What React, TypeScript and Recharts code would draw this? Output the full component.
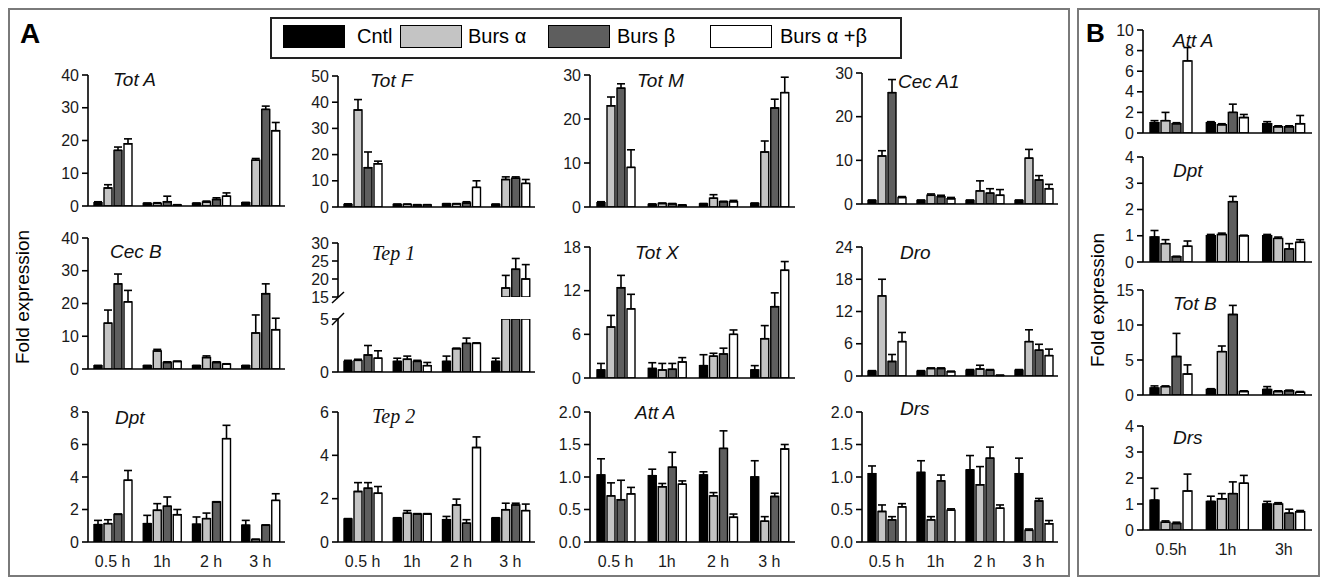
import React from 'react';
import { BarChart, Bar, XAxis, YAxis, ErrorBar } from 'recharts';

const TIMES_A = ['0.5 h', '1h', '2 h', '3 h'];
const TIMES_B = ['0.5h', '1h', '3h'];
const SERIES = ['Cntl', 'Burs α', 'Burs β', 'Burs α +β'];
const FILLS = ['#000000', '#c4c4c4', '#5e5e5e', '#ffffff'];

// rows: Cntl, Burs α, Burs β, Burs α+β ; columns: time points
const TOT_A = [[1.0, 0.8, 0.8, 1.0], [5.5, 0.8, 1.2, 14.0], [17.0, 1.3, 2.0, 29.5], [19.0, 0.3, 3.0, 23.0]];
const TOT_A_SE = [[0.3, 0.1, 0.1, 0.1], [1.0, 0.2, 0.3, 0.5], [1.0, 1.7, 0.5, 1.0], [1.5, 0.1, 1.0, 2.5]];
const TOT_F = [[1.0, 1.0, 1.2, 1.0], [37, 1.0, 1.2, 10.5], [15, 0.8, 1.5, 11], [16.5, 0.8, 7.5, 9]];
const TOT_F_SE = [[0.2, 0.1, 0.1, 0.1], [4, 0.1, 0.1, 1], [6, 0.1, 0.5, 0.5], [1, 0.1, 2.5, 1.5]];
const TOT_M = [[1.0, 0.6, 0.7, 0.8], [23, 0.8, 2.0, 12.5], [27, 0.7, 1.2, 22.5], [9, 0.4, 1.2, 26]];
const TOT_M_SE = [[0.2, 0.1, 0.1, 0.1], [2, 0.1, 0.8, 2.5], [1, 0.1, 0.1, 2], [4, 0.1, 0.3, 3.5]];
const CEC_A1 = [[0.8, 0.8, 0.8, 0.8], [11, 2.0, 3.0, 10.5], [25.5, 1.7, 2.5, 5.5], [1.5, 1.2, 2.0, 3.5]];
const CEC_A1_SE = [[0.1, 0.1, 0.1, 0.1], [1.2, 0.3, 2.3, 2], [3, 0.3, 1.0, 1.0], [0.2, 0.3, 1.3, 1.0]];
const CEC_B = [[1, 1, 1, 1], [14, 5.5, 3.5, 11], [26, 2, 2, 23], [20.5, 2.3, 1.5, 12]];
const CEC_B_SE = [[0.1, 0.1, 0.1, 0.1], [4, 0.5, 0.5, 5.5], [3, 0.2, 0.2, 3], [3.5, 0.1, 0.1, 3.5]];
const TEP_1 = [[1.0, 1.0, 1.0, 1.0], [1.1, 1.2, 2.2, 17.5], [1.6, 1.0, 2.7, 22.7], [1.3, 0.6, 2.7, 20]];
const TEP_1_SE = [[0.1, 0.3, 0.5, 0.3], [0.1, 0.3, 0.05, 3.5], [0.9, 0.1, 0.5, 3], [0.7, 0.3, 0.05, 4]];
const TOT_X = [[1.1, 1.3, 1.7, 1.1], [7.0, 1.1, 3.0, 5.4], [12.4, 1.2, 3.3, 9.8], [9.5, 2.2, 6.0, 14.8]];
const TOT_X_SE = [[0.9, 0.8, 1.5, 0.6], [1.6, 0.9, 0.4, 1.8], [1.7, 0.8, 0.8, 1.9], [2.0, 0.6, 0.6, 1.2]];
const DRO = [[0.9, 0.9, 1.1, 1.1], [14.9, 1.4, 1.3, 6.4], [2.7, 1.4, 1.1, 4.8], [6.4, 0.8, 0.1, 3.8]];
const DRO_SE = [[0.1, 0.1, 0.1, 0.1], [3.1, 0.1, 0.7, 2.2], [1.3, 0.1, 0.1, 1.1], [1.7, 0.1, 0.05, 1.2]];
const DPT = [[1.07, 1.13, 1.09, 1.03], [1.13, 1.95, 1.44, 0.15], [1.7, 2.2, 2.46, 1.03], [3.8, 1.68, 6.36, 2.56]];
const DPT_SE = [[0.26, 0.51, 0.45, 0.3], [0.24, 0.41, 0.34, 0.02], [0.02, 0.57, 0.02, 0.02], [0.6, 0.32, 0.82, 0.41]];
const TEP_2 = [[1.06, 1.1, 1.03, 1.1], [2.33, 1.33, 1.71, 1.49], [2.48, 1.29, 0.87, 1.71], [2.25, 1.29, 4.36, 1.45]];
const TEP_2_SE = [[0.02, 0.02, 0.15, 0.02], [0.41, 0.12, 0.27, 0.3], [0.26, 0.02, 0.16, 0.08], [0.31, 0.02, 0.49, 0.3]];
const ATT_A = [[1.03, 1.02, 1.03, 1.0], [0.71, 0.85, 0.71, 0.32], [0.65, 1.15, 1.44, 0.7], [0.74, 0.89, 0.38, 1.43]];
const ATT_A_SE = [[0.25, 0.1, 0.05, 0.25], [0.2, 0.05, 0.05, 0.07], [0.3, 0.23, 0.27, 0.05], [0.1, 0.05, 0.05, 0.07]];
const DRS = [[1.05, 1.07, 1.11, 1.05], [0.47, 0.34, 0.88, 0.18], [0.34, 0.94, 1.29, 0.63], [0.54, 0.49, 0.52, 0.28]];
const DRS_SE = [[0.12, 0.18, 0.22, 0.24], [0.1, 0.05, 0.28, 0.02], [0.05, 0.09, 0.17, 0.04], [0.05, 0.02, 0.05, 0.05]];

// panel B (0.5h, 1h, 3h)
const B_ATT_A = [[1.0, 1.0, 0.9], [1.2, 0.8, 0.6], [0.9, 2.0, 0.6], [7.0, 1.5, 0.9]];
const B_ATT_A_SE = [[0.2, 0.1, 0.2], [0.8, 0.1, 0.1], [0.1, 0.8, 0.1], [1.3, 0.3, 0.8]];
const B_DPT = [[0.95, 1.0, 1.0], [0.7, 1.05, 0.9], [0.2, 2.3, 0.5], [0.6, 1.0, 0.75]];
const B_DPT_SE = [[0.25, 0.05, 0.05], [0.15, 0.05, 0.05], [0.02, 0.2, 0.2], [0.2, 0.02, 0.1]];
const B_TOT_B = [[1.0, 0.8, 0.8], [1.2, 6.2, 0.5], [5.5, 11.5, 0.6], [3.0, 0.5, 0.4]];
const B_TOT_B_SE = [[0.3, 0.1, 0.4], [0.1, 0.8, 0.1], [3.3, 1.3, 0.1], [1.3, 0.1, 0.1]];
const B_DRS = [[1.15, 1.1, 1.0], [0.3, 1.2, 1.0], [0.25, 1.4, 0.65], [1.5, 1.8, 0.7]];
const B_DRS_SE = [[0.45, 0.2, 0.1], [0.05, 0.2, 0.05], [0.05, 0.45, 0.15], [0.65, 0.3, 0.05]];

const TICKS_40 = [0, 10, 20, 30, 40];
const TICKS_50 = [0, 10, 20, 30, 40, 50];
const TICKS_30 = [0, 10, 20, 30];
const TICKS_18 = [0, 6, 12, 18];
const TICKS_24 = [0, 6, 12, 18, 24];
const TICKS_8 = [0, 2, 4, 6, 8];
const TICKS_6 = [0, 2, 4, 6];
const TICKS_2 = [0, 0.5, 1.0, 1.5, 2.0];
const TICKS_TEP1_LOW = [0, 5];
const TICKS_TEP1_HIGH = [15, 20, 25, 30];
const TICKS_10 = [0, 2, 4, 6, 8, 10];
const TICKS_4 = [0, 1, 2, 3, 4];
const TICKS_15 = [0, 5, 10, 15];

const FONT = '"Liberation Sans", Arial, sans-serif';
const SERIF = '"Liberation Serif", "Times New Roman", serif';
const AXW = 44;
const PADT = 10;
const PADR = 4;

function makeRows(times: string[], mean: number[][], se: number[][], clampMax?: number, minShown?: number) {
  return times.map((time, t) => {
    const row: any = { time };
    mean.forEach((m, s) => {
      let v: number | null = m[t];
      let e: number[] | null = [0, se[s][t]];
      if (clampMax !== undefined && v > clampMax) {
        v = clampMax;
        e = null;
      }
      if (minShown !== undefined && v <= minShown) {
        v = null;
        e = null;
      }
      row['s' + s] = v;
      row['e' + s] = e;
    });
    return row;
  });
}

type PlotProps = {
  rows: any[];
  box: [number, number, number, number];
  ticks: number[];
  fmt?: (v: number) => string;
  showX?: boolean;
  hideXLine?: boolean;
  barSize?: number;
};

function Plot({ rows, box, ticks, fmt, showX, hideXLine, barSize = 8 }: PlotProps) {
  const [x0, x1, yTop, yBot] = box;
  const xh = showX ? 32 : 1;
  const padB = showX ? 0 : 10;
  const w = x1 - x0 + AXW + PADR;
  const h = yBot - yTop + PADT + xh + padB;
  const tickStyle = { fontSize: 16, fill: '#1a1a1a', fontFamily: FONT };
  return (
    <div style={{ position: 'absolute', left: x0 - AXW, top: yTop - PADT }}>
      <BarChart
        width={w}
        height={h}
        data={rows}
        margin={{ top: PADT, right: PADR, bottom: padB, left: 0 }}
        barGap={2}
        barSize={barSize}
      >
        <XAxis
          dataKey="time"
          height={xh}
          axisLine={hideXLine ? false : { stroke: '#000', strokeWidth: 1.6 }}
          tickLine={false}
          tickSize={0}
          tickMargin={14}
          tick={showX ? tickStyle : false}
          interval={0}
        />
        <YAxis
          type="number"
          width={AXW}
          domain={[ticks[0], ticks[ticks.length - 1]]}
          ticks={ticks}
          interval={0}
          allowDataOverflow
          tickFormatter={fmt}
          axisLine={{ stroke: '#000', strokeWidth: 1.6 }}
          tickLine={{ stroke: '#000', strokeWidth: 1.6 }}
          tickSize={6}
          tickMargin={3}
          tick={tickStyle}
        />
        {SERIES.map((name, s) => (
          <Bar
            key={name}
            name={name}
            dataKey={'s' + s}
            fill={FILLS[s]}
            stroke="#000"
            strokeWidth={1.4}
            isAnimationActive={false}
          >
            <ErrorBar
              dataKey={'e' + s}
              width={4}
              stroke="#000"
              strokeWidth={1.6}
              direction="y"
              isAnimationActive={false}
            />
          </Bar>
        ))}
      </BarChart>
    </div>
  );
}

function Title({ text, x, y, serif }: { text: string; x: number; y: number; serif?: boolean }) {
  return (
    <div
      style={{
        position: 'absolute',
        left: x,
        top: y,
        fontFamily: serif ? SERIF : FONT,
        fontStyle: 'italic',
        fontSize: serif ? 20 : 19,
        lineHeight: 1,
        color: '#111',
        whiteSpace: 'nowrap',
      }}
    >
      {text}
    </div>
  );
}

const one = (v: number) => v.toFixed(1);

export default function App() {
  const legendSwatch = [283, 400, 548, 710];
  const legendText = [357, 468, 617, 780];
  return (
    <div
      style={{
        position: 'absolute',
        left: 0,
        top: 0,
        width: 1321,
        height: 578,
        background: '#fff',
        overflow: 'hidden',
        fontFamily: FONT,
      }}
    >
      {/* panel frames */}
      <div style={{ position: 'absolute', left: 8, top: 8, width: 1058, height: 565, border: '2px solid #7a7a7a' }} />
      <div style={{ position: 'absolute', left: 1077, top: 8, width: 239, height: 565, border: '2px solid #7a7a7a' }} />
      <div style={{ position: 'absolute', left: 20, top: 18, fontSize: 28, fontWeight: 'bold' }}>A</div>
      <div style={{ position: 'absolute', left: 1086, top: 18, fontSize: 26, fontWeight: 'bold' }}>B</div>

      {/* legend */}
      <div style={{ position: 'absolute', left: 270, top: 17, width: 628, height: 38, border: '2px solid #222' }} />
      {SERIES.map((name, s) => (
        <React.Fragment key={name}>
          <div
            style={{
              position: 'absolute',
              left: legendSwatch[s],
              top: 25,
              width: 60,
              height: 21,
              background: FILLS[s],
              border: '1.5px solid #000',
            }}
          />
          <div style={{ position: 'absolute', left: legendText[s], top: 25, fontSize: 20, lineHeight: 1.1 }}>{name}</div>
        </React.Fragment>
      ))}

      {/* y-axis titles */}
      <div
        style={{
          position: 'absolute',
          left: 23,
          top: 297,
          fontSize: 19,
          transform: 'translate(-50%, -50%) rotate(-90deg)',
          whiteSpace: 'nowrap',
        }}
      >
        Fold expression
      </div>
      <div
        style={{
          position: 'absolute',
          left: 1098,
          top: 300,
          fontSize: 19,
          transform: 'translate(-50%, -50%) rotate(-90deg)',
          whiteSpace: 'nowrap',
        }}
      >
        Fold expression
      </div>

      {/* Panel A row 1 */}
      <Plot rows={makeRows(TIMES_A, TOT_A, TOT_A_SE)} box={[88, 285, 75, 206]} ticks={TICKS_40} />
      <Plot rows={makeRows(TIMES_A, TOT_F, TOT_F_SE)} box={[338, 535, 76, 207]} ticks={TICKS_50} />
      <Plot rows={makeRows(TIMES_A, TOT_M, TOT_M_SE)} box={[590, 795, 75, 207]} ticks={TICKS_30} />
      <Plot rows={makeRows(TIMES_A, CEC_A1, CEC_A1_SE)} box={[862, 1058, 73, 204]} ticks={TICKS_30} />

      {/* Panel A row 2 */}
      <Plot rows={makeRows(TIMES_A, CEC_B, CEC_B_SE)} box={[88, 285, 238, 369]} ticks={TICKS_40} />
      <Plot rows={makeRows(TIMES_A, TEP_1, TEP_1_SE, 5)} box={[338, 535, 319, 372]} ticks={TICKS_TEP1_LOW} />
      <Plot
        rows={makeRows(TIMES_A, TEP_1, TEP_1_SE, undefined, 15)}
        box={[338, 535, 243, 297]}
        ticks={TICKS_TEP1_HIGH}
        hideXLine
      />
      <svg style={{ position: 'absolute', left: 0, top: 0 }} width={1321} height={578} pointerEvents="none">
        <line x1={332} y1={303} x2={344} y2={292} stroke="#000" strokeWidth={1.5} />
        <line x1={332} y1={325} x2={344} y2={313} stroke="#000" strokeWidth={1.5} />
      </svg>
      <Plot rows={makeRows(TIMES_A, TOT_X, TOT_X_SE)} box={[590, 795, 247, 378]} ticks={TICKS_18} />
      <Plot rows={makeRows(TIMES_A, DRO, DRO_SE)} box={[862, 1058, 247, 376]} ticks={TICKS_24} />

      {/* Panel A row 3 */}
      <Plot rows={makeRows(TIMES_A, DPT, DPT_SE)} box={[88, 285, 412, 542]} ticks={TICKS_8} showX />
      <Plot rows={makeRows(TIMES_A, TEP_2, TEP_2_SE)} box={[338, 535, 412, 542]} ticks={TICKS_6} showX />
      <Plot rows={makeRows(TIMES_A, ATT_A, ATT_A_SE)} box={[590, 795, 412, 542]} ticks={TICKS_2} fmt={one} showX />
      <Plot rows={makeRows(TIMES_A, DRS, DRS_SE)} box={[862, 1058, 412, 542]} ticks={TICKS_2} fmt={one} showX />

      {/* Panel B */}
      <Plot rows={makeRows(TIMES_B, B_ATT_A, B_ATT_A_SE)} box={[1143, 1312, 30, 133]} ticks={TICKS_10} barSize={9} />
      <Plot rows={makeRows(TIMES_B, B_DPT, B_DPT_SE)} box={[1143, 1312, 157, 262]} ticks={TICKS_4} barSize={9} />
      <Plot rows={makeRows(TIMES_B, B_TOT_B, B_TOT_B_SE)} box={[1143, 1312, 290, 395]} ticks={TICKS_15} barSize={9} />
      <Plot rows={makeRows(TIMES_B, B_DRS, B_DRS_SE)} box={[1143, 1312, 426, 530]} ticks={TICKS_4} barSize={9} showX />

      {/* gene titles */}
      <Title text="Tot A" x={113} y={70} />
      <Title text="Tot F" x={370} y={71} />
      <Title text="Tot M" x={637} y={71} />
      <Title text="Cec A1" x={898} y={72} />
      <Title text="Cec B" x={110} y={242} />
      <Title text="Tep 1" x={372} y={243} serif />
      <Title text="Tot X" x={635} y={243} />
      <Title text="Dro" x={900} y={243} />
      <Title text="Dpt" x={115} y={408} />
      <Title text="Tep 2" x={372} y={406} serif />
      <Title text="Att A" x={635} y={403} />
      <Title text="Drs" x={900} y={399} />
      <Title text="Att A" x={1173} y={31} />
      <Title text="Dpt" x={1173} y={161} />
      <Title text="Tot B" x={1173} y={294} />
      <Title text="Drs" x={1173} y={428} />
    </div>
  );
}
